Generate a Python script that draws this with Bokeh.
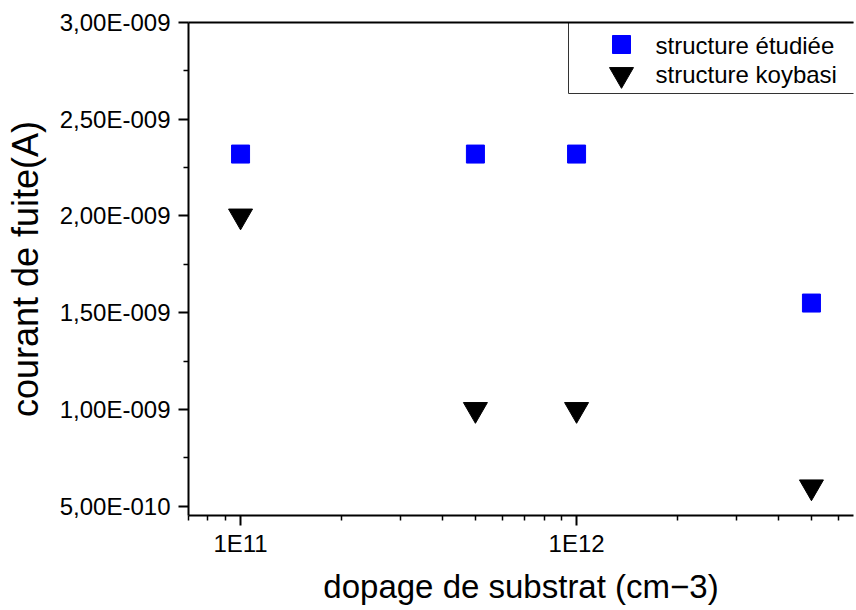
from bokeh.plotting import figure
from bokeh.models import FixedTicker, LogAxis, Range1d, LinearScale
from bokeh.core.properties import value
from bokeh.embed import file_html
from bokeh.resources import INLINE

# Substrate doping (cm^-3) and leakage current (A) for the two structures
doping = [1e11, 5e11, 1e12, 5e12]
courant_etudiee = [2.32e-9, 2.32e-9, 2.32e-9, 1.55e-9]
courant_koybasi = [2.0e-9, 1.0e-9, 1.0e-9, 6.0e-10]

series_names = ["structure étudiée", "structure koybasi"]

# Axis ticks and their printed labels
x_major = [1e11, 1e12]
x_major_labels = ["1E11", "1E12"]
x_minor = [m * d for d in (1e10, 1e11, 1e12) for m in range(2, 10)]

y_major = [5e-10, 1e-9, 1.5e-9, 2e-9, 2.5e-9, 3e-9]
y_major_labels = ["5,00E-010", "1,00E-009", "1,50E-009", "2,00E-009", "2,50E-009", "3,00E-009"]
y_minor = [7.5e-10, 1.25e-9, 1.75e-9, 2.25e-9, 2.75e-9]

FONT = "Liberation Sans"
FRAME_W, FRAME_H = 665, 493

p = figure(
    width=856, height=610,
    x_axis_type="log",
    x_range=(7.0e10, 6.67e12),
    y_range=(4.52e-10, 3.0e-9),
    output_backend="svg",
    toolbar_location=None,
    min_border_left=188, min_border_right=3,
    min_border_top=22, min_border_bottom=95,
)
p.outline_line_color = None
p.xgrid.visible = False
p.ygrid.visible = False
p.background_fill_color = "white"
p.border_fill_color = "white"

p.scatter(doping, courant_etudiee, marker="square", size=18,
          fill_color="#0000ff", line_color="#0000ff")
p.scatter(doping, courant_koybasi, marker="inverted_triangle", size=24,
          fill_color="black", line_color="black")

# x axis
xa = p.xaxis[0]
xa.ticker = FixedTicker(ticks=x_major, minor_ticks=x_minor)
xa.major_label_overrides = dict(zip(x_major, x_major_labels))
xa.axis_label = "dopage de substrat (cm−3)"

# y axis
ya = p.yaxis[0]
ya.ticker = FixedTicker(ticks=y_major, minor_ticks=y_minor)
ya.major_label_overrides = dict(zip(y_major, y_major_labels))
ya.axis_label = "courant de fuite(A)"

for ax in (xa, ya):
    ax.axis_line_color = "black"
    ax.axis_line_width = 2
    ax.major_tick_line_color = "black"
    ax.major_tick_line_width = 2
    ax.minor_tick_line_color = "black"
    ax.minor_tick_line_width = 1.5
    ax.major_tick_in = 0
    ax.major_tick_out = 10
    ax.minor_tick_in = 0
    ax.minor_tick_out = 5
    ax.major_label_text_font = FONT
    ax.major_label_text_font_size = "24px"
    ax.major_label_text_color = "black"
    ax.axis_label_text_font = FONT
    ax.axis_label_text_font_style = "normal"
    ax.axis_label_text_color = "black"

xa.major_label_standoff = 4
xa.axis_label_text_font_size = "33px"
xa.axis_label_standoff = 8
ya.major_label_standoff = 8
ya.axis_label_text_font_size = "36px"
ya.axis_label_standoff = 11

# top frame line
top = LogAxis(ticker=FixedTicker(ticks=[]), axis_line_color="black", axis_line_width=2,
              major_tick_out=0, minor_tick_out=0, major_tick_in=0, minor_tick_in=0)
p.add_layout(top, "above")

# legend drawn in a pixel coordinate space laid over the frame
p.extra_x_ranges["px"] = Range1d(0, FRAME_W)
p.extra_y_ranges["px"] = Range1d(0, FRAME_H)
p.extra_x_scales["px"] = LinearScale()
p.extra_y_scales["px"] = LinearScale()

px = dict(x_range_name="px", y_range_name="px")
p.quad(left=[380], right=[720], top=[FRAME_H], bottom=[422],
       fill_color="white", line_color="#333333", line_width=1, **px)
p.scatter([433], [471], marker="square", size=18,
          fill_color="#0000ff", line_color="#0000ff", **px)
p.scatter([433], [441], marker="inverted_triangle", size=24,
          fill_color="black", line_color="black", **px)
p.text(x=[467, 467], y=[470, 441], text=series_names,
       text_font=value(FONT), text_font_size="24px", text_color="black",
       text_baseline="middle", text_align="left", **px)

open("out.html", "w").write(file_html(p, INLINE))
